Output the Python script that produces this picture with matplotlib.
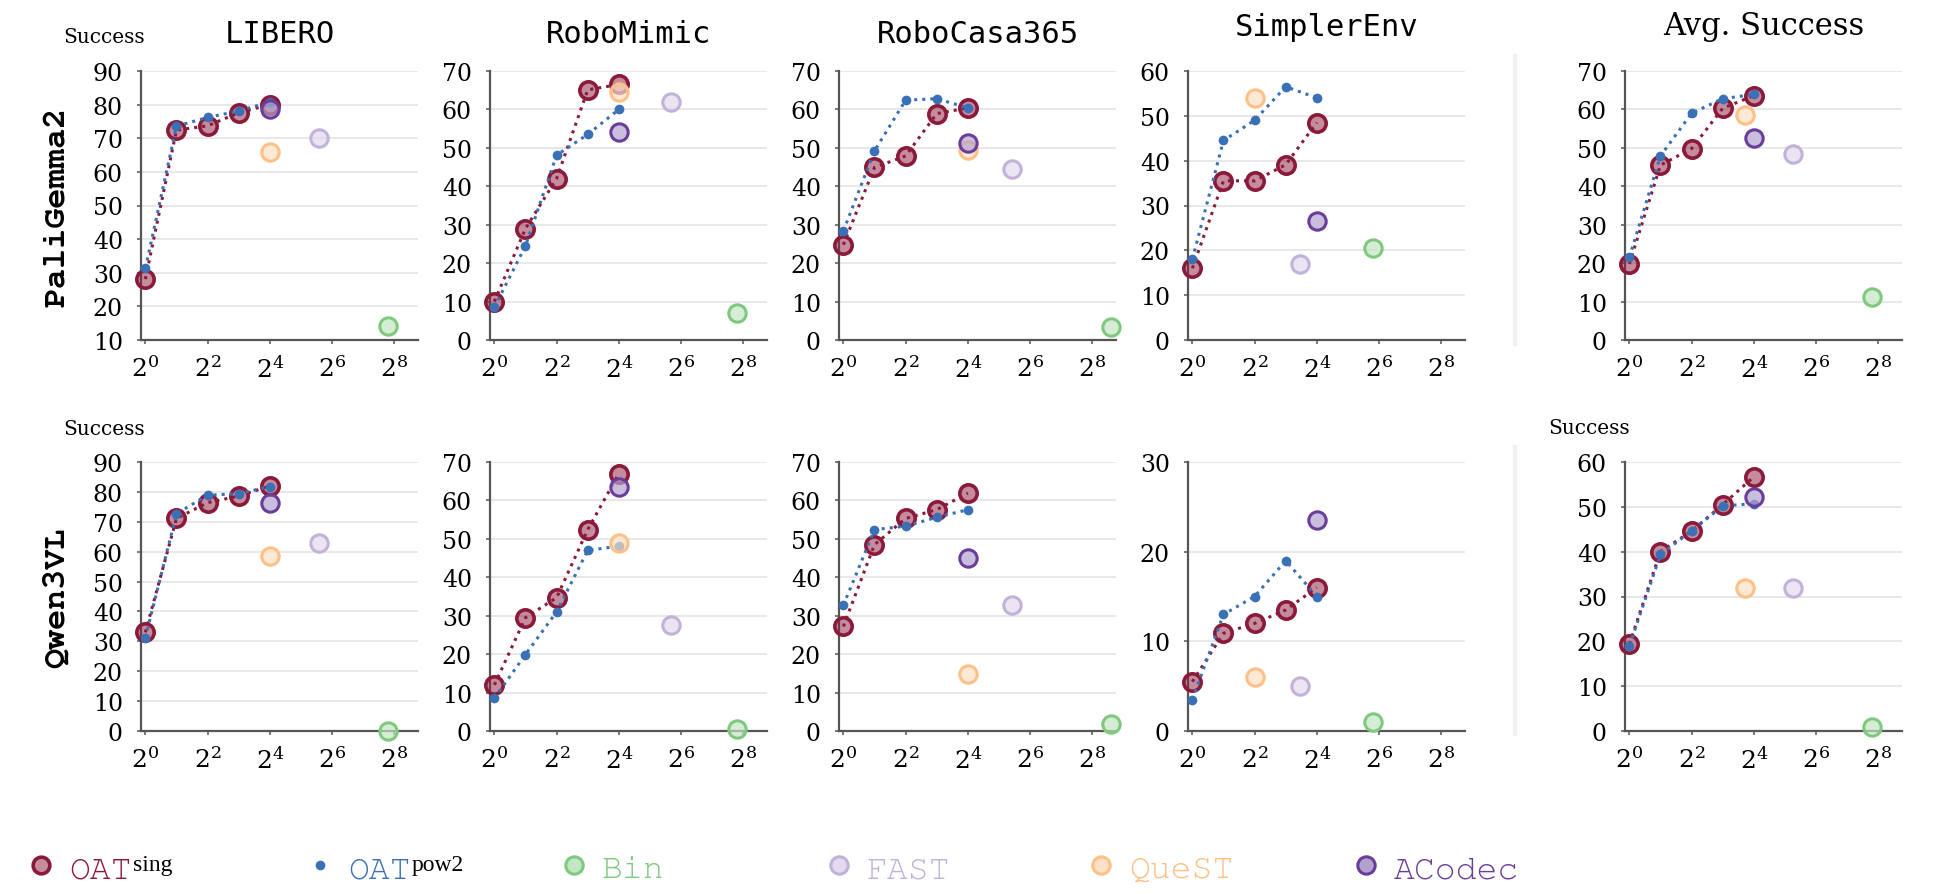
import numpy as np
import matplotlib
matplotlib.use("Agg")
import matplotlib.pyplot as plt
from matplotlib.lines import Line2D
from matplotlib.ticker import FixedLocator, NullLocator
from matplotlib import font_manager

plt.rcParams['font.family'] = 'DejaVu Serif'
plt.rcParams['mathtext.fontset'] = 'dejavuserif'

# ---- data ----
benchmarks = ["LIBERO", "RoboMimic", "RoboCasa365", "SimplerEnv", "Avg. Success"]
models = ["PaliGemma2", "Qwen3VL"]
oat_tokens = [1, 2, 4, 8, 16]

# OAT values per benchmark (rows follow `benchmarks`)
pali_sing = [[28.1, 72.4, 73.7, 77.6, 80.0],
             [10.0, 29.0, 42.0, 65.1, 66.5],
             [24.8, 44.9, 47.9, 58.9, 60.4],
             [16.0, 35.5, 35.5, 39.1, 48.5],
             [19.8, 45.5, 49.8, 60.3, 63.6]]
pali_pow2 = [[31.3, 73.6, 76.2, 78.1, 80.8],
             [8.5, 24.5, 48.1, 53.5, 60.0],
             [28.4, 49.2, 62.4, 62.8, 60.4],
             [18.0, 44.5, 49.0, 56.5, 54.0],
             [21.5, 47.9, 59.0, 62.8, 63.9]]
qwen_sing = [[33.0, 71.1, 76.4, 78.6, 82.0],
             [12.0, 29.5, 34.7, 52.4, 67.0],
             [27.2, 48.5, 55.3, 57.6, 61.9],
             [5.5, 10.9, 12.0, 13.5, 16.0],
             [19.4, 40.0, 44.6, 50.5, 56.7]]
qwen_pow2 = [[31.2, 72.7, 78.9, 79.4, 81.8],
             [8.5, 19.9, 31.0, 47.0, 48.1],
             [32.7, 52.4, 53.3, 55.6, 57.6],
             [3.5, 13.0, 15.0, 19.0, 15.0],
             [19.0, 39.4, 44.6, 50.2, 50.7]]

# baselines: token counts (x) per benchmark
bin_tokens = [224, 224, 385, 56, 221]
fast_tokens = [48, 51, 43, 11, 38]
quest_tokens = [16, 16, 16, 4, 13]
acodec_tokens = [16, 16, 16, 16, 16]

pali_bin = [14.3, 7.0, 3.3, 20.5, 11.3]
pali_fast = [70.2, 62.0, 44.4, 17.0, 48.5]
pali_quest = [65.9, 64.5, 49.4, 54.0, 58.5]
pali_acodec = [78.6, 54.0, 51.2, 26.6, 52.6]

qwen_bin = [0.1, 0.4, 1.7, 1.0, 0.8]
qwen_fast = [62.8, 27.5, 32.7, 5.0, 32.0]
qwen_quest = [58.5, 49.0, 14.8, 6.0, 32.0]
qwen_acodec = [76.4, 63.5, 45.1, 23.5, 52.1]

pali_ylim = [(10, 90), (0, 70), (0, 70), (0, 60), (0, 70)]
qwen_ylim = [(0, 90), (0, 70), (0, 70), (0, 30), (0, 60)]

xtick_vals = [1, 4, 16, 64, 256]
xtick_labels = [r'$2^{0}$', r'$2^{2}$', r'$2^{4}$', r'$2^{6}$', r'$2^{8}$']


def pick_font(candidates):
    # first installed family from the list
    for name in candidates:
        try:
            font_manager.findfont(name, fallback_to_default=False)
            return name
        except ValueError:
            pass
    return candidates[-1]


# ---- styles ----
red, blue = '#8b1a3a', '#3a70b6'
base_styles = {
    'Bin': ('#7fc97f', '#c3e6c3'),
    'FAST': ('#c2b2d9', '#e2daee'),
    'QueST': ('#fdc086', '#fee0c6'),
    'ACodec': ('#6a3d9a', '#b3a2d0'),
}
mono = 'DejaVu Sans Mono'
courier = pick_font(['Courier New', 'Nimbus Mono PS', 'FreeMono', 'Courier', 'Liberation Mono'])

W, H = 1947, 895
fig = plt.figure(figsize=(W / 100, H / 100), dpi=100)

col_left = [141, 490, 839, 1188, 1625]
row_top = [72, 463]
ax_w, ax_h = 277, 269

rows = [
    (pali_sing, pali_pow2, pali_bin, pali_fast, pali_quest, pali_acodec, pali_ylim),
    (qwen_sing, qwen_pow2, qwen_bin, qwen_fast, qwen_quest, qwen_acodec, qwen_ylim),
]

for r, (sing, pow2, binv, fast, quest, acodec, ylims) in enumerate(rows):
    for c in range(5):
        ax = fig.add_axes([col_left[c] / W, 1 - (row_top[r] + ax_h) / H, ax_w / W, ax_h / H])
        ax.plot(oat_tokens, sing[c], ls=':', lw=2.2, color=red, marker='o', ms=12.5,
                mew=2.6, mfc=(0.545, 0.102, 0.227, 0.5), mec=red, clip_on=False, zorder=3)
        ax.plot(oat_tokens, pow2[c], ls=':', lw=2.2, color=blue, marker='o', ms=7,
                mew=0, clip_on=False, zorder=4)
        for name, xs, ys in [('Bin', bin_tokens, binv), ('FAST', fast_tokens, fast),
                             ('QueST', quest_tokens, quest), ('ACodec', acodec_tokens, acodec)]:
            ec, fc = base_styles[name]
            ax.plot([xs[c]], [ys[c]], ls='none', marker='o', ms=12.5, mew=2.2,
                    mec=ec, mfc=fc + 'b0', clip_on=False, zorder=5)

        ax.set_xscale('log', base=2)
        ax.set_xlim(2 ** -0.14, 2 ** 8.76)
        ax.xaxis.set_major_locator(FixedLocator(xtick_vals))
        ax.xaxis.set_minor_locator(NullLocator())
        ax.set_xticklabels(xtick_labels)
        lo, hi = ylims[c]
        ax.set_ylim(lo, hi)
        ax.set_yticks(np.arange(lo, hi + 1, 10))

        ax.tick_params(axis='both', length=3, width=1.1, color='#555555')
        ax.tick_params(axis='y', pad=10, labelsize=17)
        ax.tick_params(axis='x', pad=8, labelsize=18)
        ax.yaxis.grid(True, color='#e6e6e6', lw=1.3)
        ax.set_axisbelow(True)
        for s in ['top', 'right']:
            ax.spines[s].set_visible(False)
        for s in ['left', 'bottom']:
            ax.spines[s].set_color('#555555')
            ax.spines[s].set_linewidth(1.6)

# titles
title_base = [43, 43, 43, 36, 35]
for c, name in enumerate(benchmarks):
    cx = (col_left[c] + ax_w / 2) / W
    fam = 'DejaVu Serif' if c == 4 else mono
    fig.text(cx, 1 - title_base[c] / H, name, ha='center', va='baseline',
             fontsize=22, family=fam)

# "Success" labels
for x, y in [(63, 43), (63, 435), (1548, 434)]:
    fig.text(x / W, 1 - y / H, 'Success', ha='left', va='baseline', fontsize=14.5)

# row labels
for r, name in enumerate(models):
    cy = 1 - (row_top[r] + ax_h / 2) / H
    fig.text(57 / W, cy, name, rotation=90, ha='center', va='center',
             fontsize=24, family=courier, fontweight='bold')

# separator before the average column
for y0, y1 in [(57, 345), (448, 735)]:
    fig.add_artist(Line2D([1515 / W, 1515 / W], [1 - y0 / H, 1 - y1 / H],
                          transform=fig.transFigure, color='#f0f0f0', lw=3))

# legend
handles = [
    Line2D([], [], ls='none', marker='o', ms=12, mew=2.6, mfc=(0.545, 0.102, 0.227, 0.5), mec=red),
    Line2D([], [], ls='none', marker='o', ms=7, mew=0, color=blue),
]
labels = ['OAT', 'OAT', 'Bin', 'FAST', 'QueST', 'ACodec']
colors = [red, blue] + [base_styles[k][0] for k in ['Bin', 'FAST', 'QueST', 'ACodec']]
for k in ['Bin', 'FAST', 'QueST', 'ACodec']:
    ec, fc = base_styles[k]
    handles.append(Line2D([], [], ls='none', marker='o', ms=12.5, mew=2.2, mec=ec, mfc=fc))

legend_x = [41, 320, 574, 839, 1101, 1366]
legend_y = 1 - 869 / H
legs = []
for h, lab, col, x in zip(handles, labels, colors, legend_x):
    leg = fig.legend([h], [lab], loc='center left', bbox_to_anchor=((x - 12) / W, legend_y),
                     frameon=False, borderpad=0, borderaxespad=0, handlelength=0.7,
                     handletextpad=0.45, prop={'family': courier, 'size': 25})
    leg.get_texts()[0].set_color(col)
    legs.append(leg)

fig.canvas.draw()
renderer = fig.canvas.get_renderer()
for leg, sup in [(legs[0], 'sing'), (legs[1], 'pow2')]:
    bb = leg.get_texts()[0].get_window_extent(renderer)
    fig.text(bb.x1 / W + 1 / W, (bb.y1 + 2) / H, sup, ha='left', va='top',
             fontsize=17, family='Liberation Serif', color='black')

fig.savefig('out.png', dpi=100)
